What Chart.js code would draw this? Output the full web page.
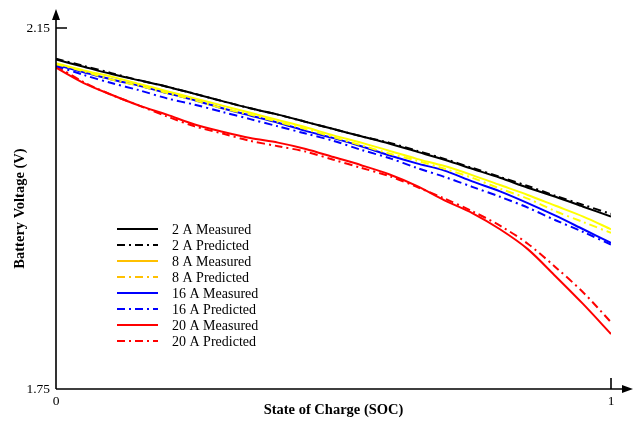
<!DOCTYPE html>
<html>
<head>
<meta charset="utf-8">
<script src="https://cdn.jsdelivr.net/npm/chart.js@4.4.1/dist/chart.umd.min.js"></script>
<style>
  html, body { margin: 0; padding: 0; background: #fff; }
  #wrap { width: 636px; height: 421px; }
</style>
</head>
<body>
<div id="wrap"><canvas id="socChart" width="636" height="421"></canvas></div>
<script>
// State of charge samples (x)
const soc = [0, 0.05, 0.1, 0.15, 0.2, 0.25, 0.3, 0.35, 0.4, 0.45, 0.5,
             0.55, 0.6, 0.65, 0.7, 0.75, 0.8, 0.85, 0.9, 0.95, 1];

// Battery voltage (V)
const v2Measured  = [2.115, 2.107, 2.099, 2.092, 2.085, 2.077, 2.069, 2.061, 2.054, 2.046, 2.038,
                     2.030, 2.022, 2.013, 2.004, 1.994, 1.984, 1.973, 1.963, 1.952, 1.941];
const v2Predicted = [2.116, 2.108, 2.100, 2.092, 2.085, 2.077, 2.069, 2.061, 2.054, 2.046, 2.038,
                     2.030, 2.023, 2.014, 2.005, 1.995, 1.985, 1.975, 1.964, 1.954, 1.944];
const v8Measured  = [2.111, 2.103, 2.096, 2.088, 2.080, 2.072, 2.064, 2.056, 2.048, 2.040, 2.031,
                     2.023, 2.014, 2.005, 1.997, 1.987, 1.976, 1.965, 1.953, 1.941, 1.927];
const v8Predicted = [2.110, 2.102, 2.093, 2.086, 2.078, 2.070, 2.061, 2.054, 2.046, 2.038, 2.029,
                     2.020, 2.011, 2.003, 1.994, 1.984, 1.972, 1.961, 1.947, 1.935, 1.923];
const v16Measured  = [2.109, 2.101, 2.093, 2.086, 2.078, 2.070, 2.061, 2.053, 2.045, 2.036, 2.028,
                      2.019, 2.009, 2.000, 1.992, 1.980, 1.969, 1.956, 1.942, 1.927, 1.912];
const v16Predicted = [2.108, 2.098, 2.089, 2.081, 2.072, 2.065, 2.057, 2.049, 2.041, 2.033, 2.025,
                      2.015, 2.006, 1.995, 1.985, 1.974, 1.963, 1.951, 1.937, 1.924, 1.910];
const v20Measured  = [2.106, 2.089, 2.076, 2.064, 2.054, 2.043, 2.035, 2.028, 2.023, 2.016, 2.007,
                      1.998, 1.988, 1.975, 1.959, 1.945, 1.927, 1.905, 1.875, 1.844, 1.811];
const v20Predicted = [2.108, 2.090, 2.076, 2.064, 2.052, 2.041, 2.033, 2.025, 2.019, 2.013, 2.004,
                      1.995, 1.986, 1.974, 1.961, 1.947, 1.931, 1.911, 1.885, 1.857, 1.824];

const seriesLabels = ['2 A Measured', '2 A Predicted', '8 A Measured', '8 A Predicted',
                      '16 A Measured', '16 A Predicted', '20 A Measured', '20 A Predicted'];

const xTicks = [0, 1];
const xTickLabels = ['0', '1'];
const yTicks = [1.75, 2.15];
const yTickLabels = ['1.75', '2.15'];

const serif = '"Liberation Serif", "Times New Roman", serif';
const dashDot = [8, 4, 2, 4];

function makeSet(label, values, color, dashed) {
  return {
    label: label,
    data: values.map((v, i) => ({ x: soc[i], y: v })),
    borderColor: color,
    backgroundColor: color,
    borderWidth: 2,
    borderDash: dashed ? dashDot : [],
    pointRadius: 0,
    tension: 0.3,
    fill: false
  };
}

// legend drawn by hand so dash-dot shows in the samples
const legendColors = ['#000000', '#000000', '#ffc000', '#ffc000', '#0000ff', '#0000ff', '#ff0000', '#ff0000'];

const legendPlugin = {
  id: 'insideLegend',
  afterDatasetsDraw(chart) {
    const ctx = chart.ctx;
    ctx.save();
    chart.data.datasets.forEach((ds, i) => {
      const y = 229 + i * 16;
      ctx.strokeStyle = legendColors[i];
      ctx.lineWidth = 2;
      ctx.setLineDash(ds.borderDash);
      ctx.beginPath();
      ctx.moveTo(117, y);
      ctx.lineTo(158, y);
      ctx.stroke();
      ctx.setLineDash([]);
      ctx.fillStyle = '#000';
      ctx.font = '14px ' + serif;
      ctx.textBaseline = 'middle';
      ctx.textAlign = 'left';
      ctx.fillText(ds.label, 172, y + 1);
    });
    ctx.restore();
  }
};

// axes with arrows and inward ticks
const axesPlugin = {
  id: 'arrowAxes',
  afterDraw(chart) {
    const ctx = chart.ctx;
    const xs = chart.scales.x, ys = chart.scales.y;
    const x0 = xs.getPixelForValue(0);
    const y0 = ys.getPixelForValue(1.75);
    ctx.save();
    ctx.strokeStyle = '#000';
    ctx.fillStyle = '#000';
    ctx.lineWidth = 1.6;
    ctx.beginPath();
    ctx.moveTo(x0, y0);
    ctx.lineTo(x0, 16);
    ctx.moveTo(x0, y0);
    ctx.lineTo(626, y0);
    // inward ticks
    const yt = ys.getPixelForValue(2.15);
    ctx.moveTo(x0, yt);
    ctx.lineTo(x0 + 11, yt);
    const xt = xs.getPixelForValue(1);
    ctx.moveTo(xt, y0);
    ctx.lineTo(xt, y0 - 11);
    ctx.stroke();
    // arrow heads
    ctx.beginPath();
    ctx.moveTo(x0, 9);
    ctx.lineTo(x0 - 4, 20);
    ctx.lineTo(x0 + 4, 20);
    ctx.closePath();
    ctx.fill();
    ctx.beginPath();
    ctx.moveTo(633, y0);
    ctx.lineTo(622, y0 - 4);
    ctx.lineTo(622, y0 + 4);
    ctx.closePath();
    ctx.fill();
    ctx.restore();
  }
};

new Chart(document.getElementById('socChart').getContext('2d'), {
  type: 'line',
  data: {
    datasets: [
      makeSet(seriesLabels[0], v2Measured, '#000000', false),
      makeSet(seriesLabels[1], v2Predicted, '#000000', true),
      makeSet(seriesLabels[2], v8Measured, '#ffff00', false),
      makeSet(seriesLabels[3], v8Predicted, '#ffff00', true),
      makeSet(seriesLabels[4], v16Measured, '#0000ff', false),
      makeSet(seriesLabels[5], v16Predicted, '#0000ff', true),
      makeSet(seriesLabels[6], v20Measured, '#ff0000', false),
      makeSet(seriesLabels[7], v20Predicted, '#ff0000', true)
    ]
  },
  options: {
    responsive: false,
    animation: false,
    layout: { padding: { top: 28, right: 25, left: 0, bottom: 0 } },
    plugins: {
      legend: { display: false },
      tooltip: { enabled: false }
    },
    scales: {
      x: {
        type: 'linear',
        min: 0,
        max: 1,
        afterBuildTicks: s => { s.ticks = xTicks.map(v => ({ value: v })); },
        afterFit: s => { s.height = 32; },
        grid: { display: false, drawTicks: false },
        border: { display: false },
        ticks: {
          color: '#000',
          padding: 4,
          maxRotation: 0,
          font: { family: serif, size: 13.5 },
          callback: (v) => xTickLabels[xTicks.indexOf(v)]
        },
        title: {
          display: true,
          text: 'State of Charge (SOC)',
          color: '#000',
          padding: { top: 0, bottom: 2 },
          font: { family: serif, size: 14.5, weight: 'bold' }
        }
      },
      y: {
        min: 1.75,
        max: 2.15,
        afterBuildTicks: s => { s.ticks = yTicks.map(v => ({ value: v })); },
        afterFit: s => { s.width = 56; },
        grid: { display: false, drawTicks: false },
        border: { display: false },
        ticks: {
          color: '#000',
          padding: 6,
          font: { family: serif, size: 13.5 },
          callback: (v) => yTickLabels[yTicks.indexOf(v)]
        },
        title: {
          display: true,
          text: 'Battery Voltage (V)',
          color: '#000',
          padding: { top: 12, bottom: 0 },
          font: { family: serif, size: 14.5, weight: 'bold' }
        }
      }
    }
  },
  plugins: [legendPlugin, axesPlugin]
});
</script>
</body>
</html>
